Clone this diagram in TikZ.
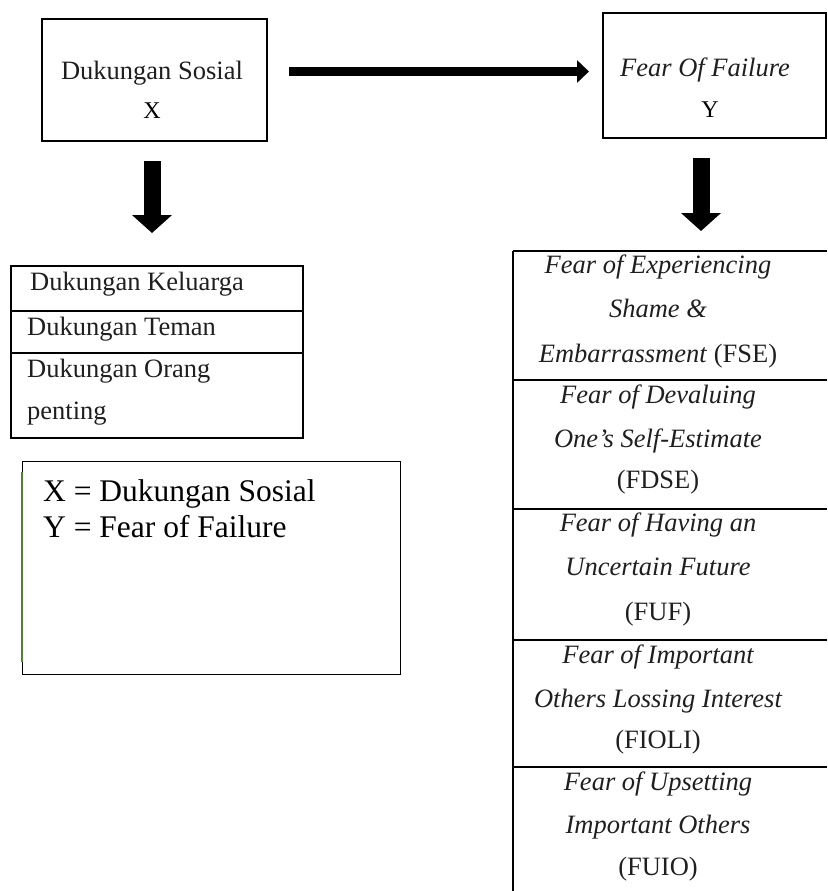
\documentclass[tikz,border=0pt]{standalone}
\usepackage{fontspec}
\setmainfont{Liberation Serif}
\usetikzlibrary{arrows.meta}
\definecolor{lgreen}{RGB}{84,130,53}
\begin{document}
\begin{tikzpicture}[x=1pt,y=-1pt,
  wtxt/.style={font=\fontsize{26.5}{30}\selectfont, inner sep=0pt, anchor=base, text=black!88},
  vtxt/.style={font=\fontsize{24}{28}\selectfont, inner sep=0pt, anchor=base},
  ltxt/.style={font=\fontsize{31.5}{36}\selectfont, inner sep=0pt, anchor=base west},
  lefttxt/.style={wtxt, anchor=base west},
  box/.style={draw, line width=1.2pt, inner sep=0pt},
  tline/.style={line width=1.2pt},
  harrow/.style={line width=9pt, -{Triangle[width=22pt,length=12pt]}},
  varrow/.style={line width=17pt, -{Triangle[width=39pt,length=18pt]}}
]
\useasboundingbox (0,0) rectangle (827,891);

% top boxes
\node[box, minimum width=225pt, minimum height=122pt] (X) at (154.5,80) {};
\node[wtxt] (xt) at (152,80) {Dukungan Sosial};
\node[vtxt] (xl) at (152,118) {X};

\node[box, minimum width=223pt, minimum height=125pt] (Y) at (714.5,75.5) {};
\node[wtxt] (yt) at (705,76) {\itshape Fear Of Failure};
\node[vtxt] (yl) at (710,117) {Y};

% arrows
\coordinate (h1) at (289,71.5);
\coordinate (h2) at (589,71.5);
\draw[harrow] (h1) -- (h2);

\coordinate (l1) at (152,161);
\coordinate (l2) at (152,233);
\draw[varrow] (l1) -- (l2);

\coordinate (r1) at (701,158);
\coordinate (r2) at (701,231);
\draw[varrow] (r1) -- (r2);

% left table
\node[box, minimum width=292pt, minimum height=172pt] (LT) at (157,352) {};
\draw[tline] (LT.west |- 0,311) -- (LT.east |- 0,311);
\draw[tline] (LT.west |- 0,353) -- (LT.east |- 0,353);
\node[lefttxt] (lt1) at (30,290) {Dukungan Keluarga};
\node[lefttxt] (lt2) at (27,335) {Dukungan Teman};
\node[lefttxt] (lt3) at (27,377) {Dukungan Orang};
\node[lefttxt] (lt4) at (27,419) {penting};

% legend box
\node[draw, line width=0.9pt, inner sep=0pt, minimum width=378pt, minimum height=213pt] (LG) at (211,567.5) {};
\draw[lgreen, line width=1.5pt] (22,472) -- (22,662);
\node[ltxt] (lg1) at (43,501) {X = Dukungan Sosial};
\node[ltxt] (lg2) at (43,537) {Y = Fear of Failure};

% right table
\draw[tline] (513,251) -- (513,891);
\foreach \yy in {251,380,509,640,767} {
  \draw[tline] (513,\yy) -- (827,\yy);
}
\node[wtxt] (a1) at (658,273) {\itshape Fear of Experiencing};
\node[wtxt] (a2) at (658,317) {\itshape Shame \&};
\node[wtxt] (a3) at (658,362) {\textit{Embarrassment} (FSE)};
\node[wtxt] (b1) at (658,403) {\itshape Fear of Devaluing};
\node[wtxt] (b2) at (658,447) {\itshape One’s Self-Estimate};
\node[wtxt] (b3) at (658,488) {(FDSE)};
\node[wtxt] (c1) at (658,531) {\itshape Fear of Having an};
\node[wtxt] (c2) at (658,575) {\itshape Uncertain Future};
\node[wtxt] (c3) at (658,620) {(FUF)};
\node[wtxt] (d1) at (658,663) {\itshape Fear of Important};
\node[wtxt] (d2) at (658,707) {\itshape Others Lossing Interest};
\node[wtxt] (d3) at (658,748) {(FIOLI)};
\node[wtxt] (e1) at (658,790) {\itshape Fear of Upsetting};
\node[wtxt] (e2) at (658,833) {\itshape Important Others};
\node[wtxt] (e3) at (658,875) {(FUIO)};
\end{tikzpicture}
\end{document}
